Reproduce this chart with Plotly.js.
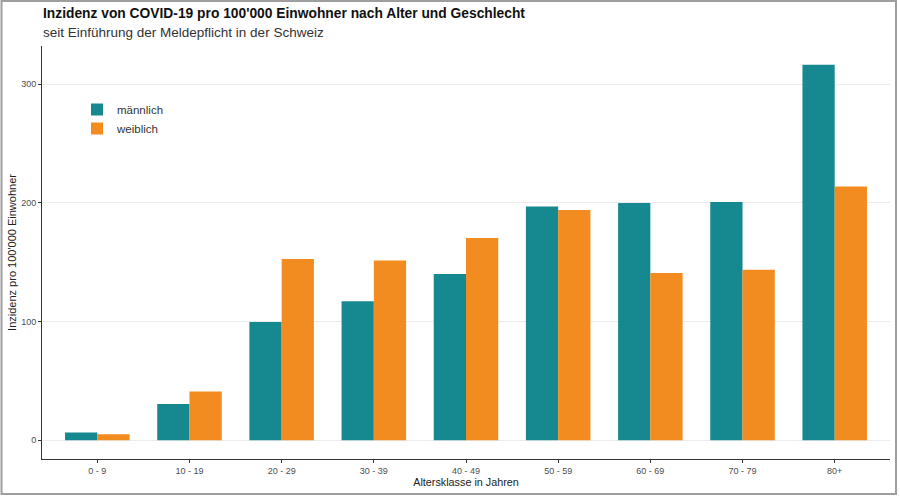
<!DOCTYPE html>
<html>
<head>
<meta charset="utf-8">
<script src="https://cdn.plot.ly/plotly-3.0.1.min.js"></script>
<style>html,body{margin:0;padding:0;background:#fff}#chart{width:900px;height:496px}</style>
</head>
<body>
<div id="chart"></div>
<script>
const categories = ["0 - 9", "10 - 19", "20 - 29", "30 - 39", "40 - 49", "50 - 59", "60 - 69", "70 - 79", "80+"];
const maleValues = [6.5, 30.5, 99.6, 117, 140, 197, 199.8, 200.7, 316.3];
const femaleValues = [5, 41, 152.7, 151.5, 170.3, 194, 140.9, 143.6, 213.8];
const yTickValues = [0, 100, 200, 300];
const seriesNames = ["männlich", "weiblich"];

const plotL = 42, plotR = 890, plotT = 46, plotB = 459, W = 900, H = 496;
const pw = plotR - plotL, ph = plotB - plotT;
const fx = px => (px - plotL) / pw;
const fy = py => (plotB - py) / ph;

const font = "Liberation Sans, Arial, sans-serif";

const traces = [
  {type: "bar", name: seriesNames[0], x: categories, y: maleValues, marker: {color: "#168990"}, hoverinfo: "x+y"},
  {type: "bar", name: seriesNames[1], x: categories, y: femaleValues, marker: {color: "#F28B20"}, hoverinfo: "x+y"}
];

const layout = {
  width: W, height: H,
  margin: {l: plotL, r: W - plotR, t: plotT, b: H - plotB},
  paper_bgcolor: "#ffffff", plot_bgcolor: "#ffffff",
  barmode: "group", bargap: 0.3, bargroupgap: 0,
  font: {family: font, color: "#4d4d4d"},
  showlegend: true,
  legend: {x: fx(77), y: fy(95), xanchor: "left", yanchor: "top", bgcolor: "rgba(0,0,0,0)",
           font: {size: 11.5, color: "#333"}, tracegroupgap: 0, itemwidth: 30},
  xaxis: {
    type: "category", range: [-0.6, 8.6], showline: true, linecolor: "#333", linewidth: 1,
    ticks: "outside", ticklen: 3, tickcolor: "#333", tickfont: {size: 9, color: "#4d4d4d"},
    showgrid: false, zeroline: false, fixedrange: true,
    title: {text: "Altersklasse in Jahren", font: {size: 10.8, color: "#222"}, standoff: 3}
  },
  yaxis: {
    range: [-15.8, 332.1], tickvals: yTickValues, showline: true, linecolor: "#333", linewidth: 1,
    ticks: "outside", ticklen: 3, tickcolor: "#333", tickfont: {size: 9, color: "#4d4d4d"},
    showgrid: true, gridcolor: "#ececec", gridwidth: 1, zeroline: false, fixedrange: true,
    title: {text: "Inzidenz pro 100'000 Einwohner", font: {size: 11, color: "#222"}, standoff: 2}
  },
  annotations: [
    {text: "<b>Inzidenz von COVID-19 pro 100'000 Einwohner nach Alter und Geschlecht</b>",
     xref: "paper", yref: "paper", x: fx(41), y: fy(13), xanchor: "left", yanchor: "middle",
     showarrow: false, font: {size: 13.8, color: "#111", family: font}},
    {text: "seit Einführung der Meldepflicht in der Schweiz",
     xref: "paper", yref: "paper", x: fx(41), y: fy(33), xanchor: "left", yanchor: "middle",
     showarrow: false, font: {size: 13.5, color: "#333", family: font}}
  ],
  shapes: [
    {type: "rect", xref: "paper", yref: "paper", x0: fx(1.5), x1: fx(896), y0: fy(494), y1: fy(1),
     line: {color: "#9e9e9e", width: 2}, fillcolor: "rgba(0,0,0,0)", layer: "above"}
  ]
};

Plotly.newPlot("chart", traces, layout, {displayModeBar: false, staticPlot: true});
</script>
</body>
</html>
